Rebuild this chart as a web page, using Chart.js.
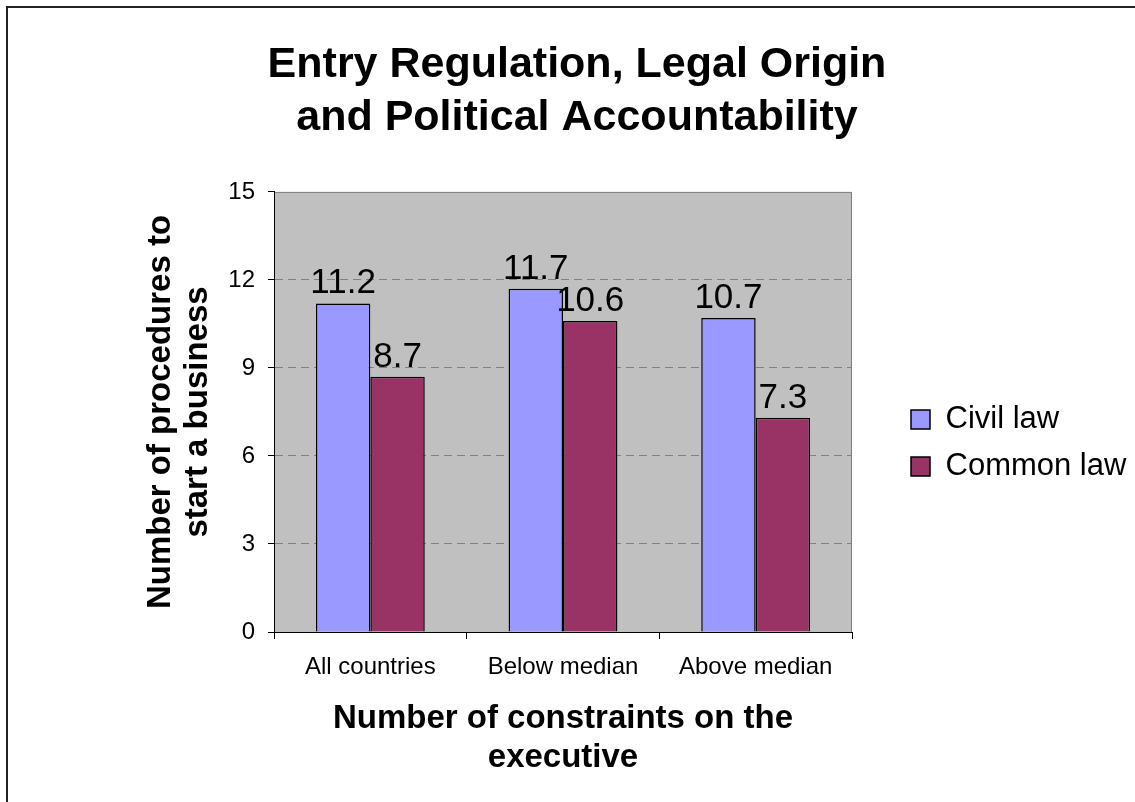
<!DOCTYPE html>
<html>
<head>
<meta charset="utf-8">
<script src="https://cdn.jsdelivr.net/npm/chart.js@4"></script>
<style>
  html, body { margin: 0; padding: 0; background: #fff; overflow: hidden; }
  #wrap { position: absolute; left: 0; top: 0; width: 1154px; height: 802px; }
  #frame { position: absolute; left: 6px; top: 6px; width: 1200px; height: 900px;
           border: 2px solid #222; pointer-events: none; }
</style>
</head>
<body>
<div id="wrap"><canvas id="barChart"></canvas></div>
<div id="frame"></div>
<script>
var categories = ['All countries', 'Below median', 'Above median'];
var civilLaw = [11.2, 11.7, 10.7];
var commonLaw = [8.7, 10.6, 7.3];
var yTicks = [0, 3, 6, 9, 12, 15];

var FONT = "'Liberation Sans', Arial, sans-serif";

// grey plot area with a thin grey frame, drawn under the grid
var plotBackground = {
    id: 'plotBackground',
    beforeDraw: function(chart) {
        var a = chart.chartArea, ctx = chart.ctx;
        ctx.save();
        ctx.fillStyle = '#C0C0C0';
        ctx.fillRect(a.left, a.top, a.right - a.left, a.bottom - a.top);
        ctx.strokeStyle = '#808080';
        ctx.lineWidth = 1;
        ctx.strokeRect(a.left + 0.5, a.top + 0.5, a.right - a.left - 1, a.bottom - a.top);
        ctx.restore();
    }
};

// value printed above each bar
var barValues = {
    id: 'barValues',
    afterDatasetsDraw: function(chart) {
        var ctx = chart.ctx;
        ctx.save();
        ctx.font = '35px ' + FONT;
        ctx.fillStyle = '#000';
        ctx.textAlign = 'center';
        ctx.textBaseline = 'alphabetic';
        chart.data.datasets.forEach(function(ds, i) {
            chart.getDatasetMeta(i).data.forEach(function(bar, j) {
                ctx.fillText(ds.data[j].toFixed(1), bar.x, bar.y - 10);
            });
        });
        ctx.restore();
    }
};

// legend sits in a wider column than it needs, with a gap to the plot
var legendGap = 43;
var legendColumn = 302;
var legendPlacement = {
    id: 'legendPlacement',
    afterInit: function(chart) {
        var fit = chart.legend.fit;
        chart.legend.fit = function() {
            fit.call(this);
            this.width = legendColumn;
        };
    },
    afterLayout: function(chart) {
        var lg = chart.legend;
        var h = lg.bottom - lg.top;
        lg.left = chart.chartArea.right + legendGap;
        lg.top = 388;
        lg.bottom = lg.top + h;
    }
};

var ctx = document.getElementById('barChart');
new Chart(ctx, {
    type: 'bar',
    data: {
        labels: categories,
        datasets: [
            {
                label: 'Civil law',
                data: civilLaw,
                backgroundColor: '#9999FF',
                borderColor: '#000',
                borderWidth: 1.5
            },
            {
                label: 'Common law',
                data: commonLaw,
                backgroundColor: '#993366',
                borderColor: '#000',
                borderWidth: 1.5
            }
        ]
    },
    options: {
        responsive: true,
        maintainAspectRatio: false,
        animation: false,
        devicePixelRatio: 1,
        layout: { padding: 0 },
        categoryPercentage: 0.565,
        barPercentage: 1,
        scales: {
            x: {
                afterFit: function(scale) { scale.height = 170; },
                grid: {
                    drawOnChartArea: false,
                    drawTicks: true,
                    tickLength: 7,
                    tickColor: '#000',
                    offset: true
                },
                border: { color: '#000', width: 1 },
                ticks: {
                    color: '#000',
                    padding: 14,
                    font: { family: FONT, size: 24 }
                },
                title: {
                    display: true,
                    text: ['Number of constraints on the', 'executive'],
                    color: '#000',
                    font: { family: FONT, size: 33, weight: 'bold', lineHeight: 1.18 },
                    padding: { top: 0, bottom: 25 }
                }
            },
            y: {
                min: 0,
                max: 15,
                afterFit: function(scale) { scale.width = 274; },
                afterBuildTicks: function(scale) {
                    scale.ticks = yTicks.map(function(v) { return { value: v }; });
                },
                grid: {
                    color: function(c) {
                        var v = c.tick ? c.tick.value : null;
                        return (v === 0 || v === 15) ? 'rgba(0,0,0,0)' : '#808080';
                    },
                    tickColor: '#000',
                    tickLength: 6
                },
                border: { color: '#000', width: 1, dash: [8, 5] },
                ticks: {
                    color: '#000',
                    padding: 13,
                    font: { family: FONT, size: 24 }
                },
                title: {
                    display: true,
                    text: ['Number of procedures to', 'start a business'],
                    color: '#000',
                    font: { family: FONT, size: 33, weight: 'bold', lineHeight: 1.12 },
                    padding: { top: 142, bottom: 0 }
                }
            }
        },
        plugins: {
            title: {
                display: true,
                text: ['Entry Regulation, Legal Origin', 'and Political Accountability'],
                color: '#000',
                font: { family: FONT, size: 43, weight: 'bold', lineHeight: 1.22 },
                padding: { top: 39, bottom: 48 }
            },
            legend: {
                position: 'right',
                align: 'start',
                labels: {
                    color: '#000',
                    boxWidth: 19,
                    boxHeight: 19,
                    padding: 16,
                    font: { family: FONT, size: 31 }
                }
            },
            tooltip: { enabled: false }
        }
    },
    plugins: [plotBackground, barValues, legendPlacement]
});
</script>
</body>
</html>
